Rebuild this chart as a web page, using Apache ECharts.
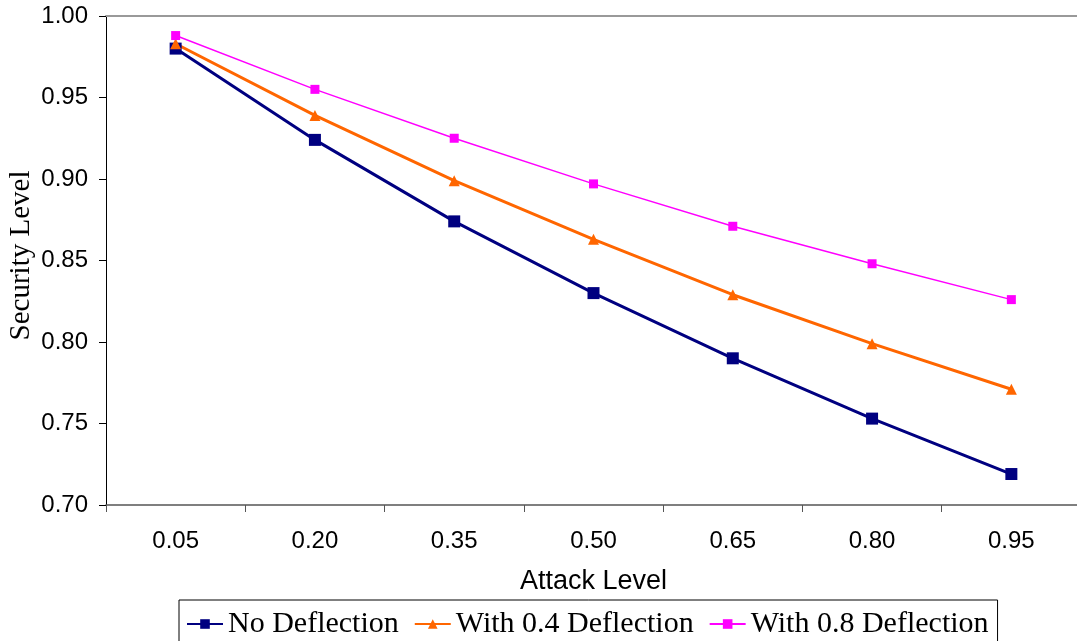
<!DOCTYPE html>
<html>
<head>
<meta charset="utf-8">
<script src="https://cdn.jsdelivr.net/npm/echarts@6/dist/echarts.min.js"></script>
<style>
html,body{margin:0;padding:0;background:#fff;}
#chart{width:1077px;height:641px;}
</style>
</head>
<body>
<div id="chart"></div>
<script>
const categories = ['0.05','0.20','0.35','0.50','0.65','0.80','0.95'];
const noDeflection = [0.980, 0.924, 0.874, 0.830, 0.790, 0.753, 0.719];
const with04 = [0.983, 0.939, 0.899, 0.863, 0.829, 0.799, 0.771];
const with08 = [0.988, 0.955, 0.925, 0.897, 0.871, 0.848, 0.826];
const seriesNames = ['No Deflection', 'With 0.4 Deflection', 'With 0.8 Deflection'];

const chart = echarts.init(document.getElementById('chart'));
chart.setOption({
  animation: false,
  backgroundColor: '#fff',
  grid: {left: 106, top: 16, width: 975, height: 489, containLabel: false, outerBoundsMode: 'none'},
  legend: {
    left: 179, top: 600,
    padding: [9, 9, 10, 7],
    borderColor: '#000', borderWidth: 1,
    itemWidth: 36, itemHeight: 12, itemGap: 15,
    textStyle: {fontFamily: 'Liberation Serif', fontSize: 30, color: '#000'},
    data: seriesNames
  },
  xAxis: [{
    type: 'category',
    data: categories,
    boundaryGap: true,
    name: 'Attack Level',
    nameLocation: 'middle',
    nameGap: 63,
    nameMoveOverlap: false,
    nameTextStyle: {fontFamily: 'Liberation Sans', fontSize: 27, color: '#000'},
    axisLine: {lineStyle: {color: '#555', width: 1.5}},
    axisTick: {show: true, inside: false, length: 7, alignWithLabel: false, lineStyle: {color: '#555'}},
    axisLabel: {fontFamily: 'Liberation Sans', fontSize: 24, color: '#000', margin: 24},
    splitLine: {show: false}
  }, {
    type: 'category',
    position: 'top',
    data: categories,
    axisLine: {show: true, lineStyle: {color: '#999', width: 2}},
    axisTick: {show: false},
    axisLabel: {show: false},
    splitLine: {show: false}
  }],
  yAxis: {
    type: 'value',
    min: 0.70, max: 1.00, interval: 0.05,
    name: 'Security Level',
    nameLocation: 'middle',
    nameGap: 70,
    nameMoveOverlap: false,
    nameRotate: 90,
    nameTextStyle: {fontFamily: 'Liberation Serif', fontSize: 29, color: '#000', padding: [0, 0, 0, 10]},
    axisLine: {show: true, lineStyle: {color: '#000', width: 1}},
    axisTick: {show: true, inside: false, length: 7, lineStyle: {color: '#000'}},
    axisLabel: {fontFamily: 'Liberation Sans', fontSize: 24, color: '#000', margin: 18,
      formatter: v => v.toFixed(2)},
    splitLine: {show: false}
  },
  series: [{
    name: seriesNames[0], type: 'line', data: noDeflection,
    symbol: 'rect', symbolSize: 12,
    lineStyle: {color: '#000080', width: 3},
    itemStyle: {color: '#000080'}
  }, {
    name: seriesNames[1], type: 'line', data: with04,
    symbol: 'triangle', symbolSize: 11,
    lineStyle: {color: '#FF6600', width: 3},
    itemStyle: {color: '#FF6600'}
  }, {
    name: seriesNames[2], type: 'line', data: with08,
    symbol: 'rect', symbolSize: 9,
    lineStyle: {color: '#FF00FF', width: 1.5},
    itemStyle: {color: '#FF00FF'}
  }]
});
</script>
</body>
</html>
